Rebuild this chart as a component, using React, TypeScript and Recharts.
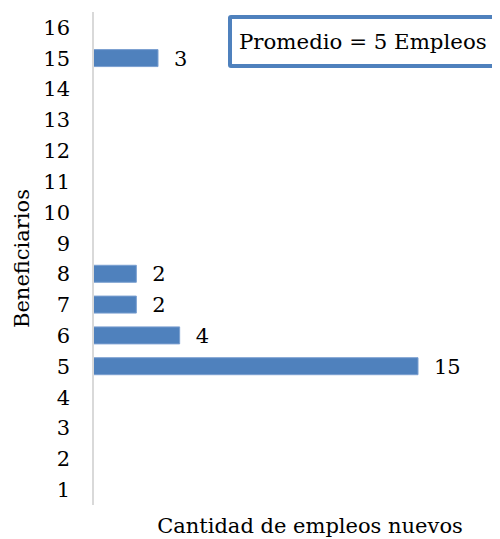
import React from 'react';
import { BarChart, Bar, XAxis, YAxis, LabelList } from 'recharts';

const beneficiarios = ['1', '2', '3', '4', '5', '6', '7', '8', '9', '10', '11', '12', '13', '14', '15', '16'];
const empleos = [null, null, null, null, 15, 4, 2, 2, null, null, null, null, null, null, 3, null];
const promedioTexto = 'Promedio = 5 Empleos';

const data = beneficiarios.map((b, i) => ({ beneficiario: b, empleos: empleos[i] }));

// solo DejaVu Serif resuelve a una serif en este entorno
const font = "'DejaVu Serif', serif";
const fs = 21;

const App: React.FC = () => {
  return (
    <div style={{ width: 492, height: 531, overflow: 'hidden', position: 'relative', background: '#fff' }}>
      <BarChart
        width={492}
        height={531}
        data={data}
        layout="vertical"
        margin={{ top: 4, right: 17, bottom: 0, left: 0 }}
        barCategoryGap="22%"
      >
        <XAxis
          type="number"
          domain={[0, 18]}
          axisLine={false}
          tickLine={false}
          tick={false}
          height={34}
          label={{
            value: 'Cantidad de empleos nuevos',
            position: 'insideBottom',
            offset: 6,
            dx: 22,
            style: { fontFamily: font, fontSize: fs, fill: '#000' },
          }}
        />
        <YAxis
          type="category"
          dataKey="beneficiario"
          reversed
          width={85}
          axisLine={{ stroke: '#d9d9d9', strokeWidth: 2 }}
          tickLine={false}
          tickMargin={17}
          interval={0}
          tick={{ fontFamily: font, fontSize: fs, fill: '#000' }}
          label={{
            value: 'Beneficiarios',
            angle: -90,
            position: 'insideLeft',
            offset: 14,
            style: { textAnchor: 'middle', fontFamily: font, fontSize: fs, fill: '#000' },
          }}
        />
        <Bar dataKey="empleos" fill="#4f81bd" stroke="#7a9fd0" strokeWidth={1} isAnimationActive={false}>
          <LabelList
            dataKey="empleos"
            position="right"
            offset={16}
            formatter={(v: any) => (v == null ? '' : v)}
            fontFamily={font}
            fontSize={fs}
            fill="#000"
          />
        </Bar>
      </BarChart>
      {/* cuadro del promedio, se sale por la derecha como en el original */}
      <div
        style={{
          position: 'absolute',
          left: 220,
          top: 7,
          border: '4px solid #4f81bd',
          borderRadius: 3,
          background: '#fff',
          padding: '8px 20px 7px 7px',
          fontFamily: font,
          fontSize: 21.3,
          color: '#000',
          whiteSpace: 'nowrap',
          lineHeight: '30px',
        }}
      >
        {promedioTexto}
      </div>
    </div>
  );
};

export default App;
